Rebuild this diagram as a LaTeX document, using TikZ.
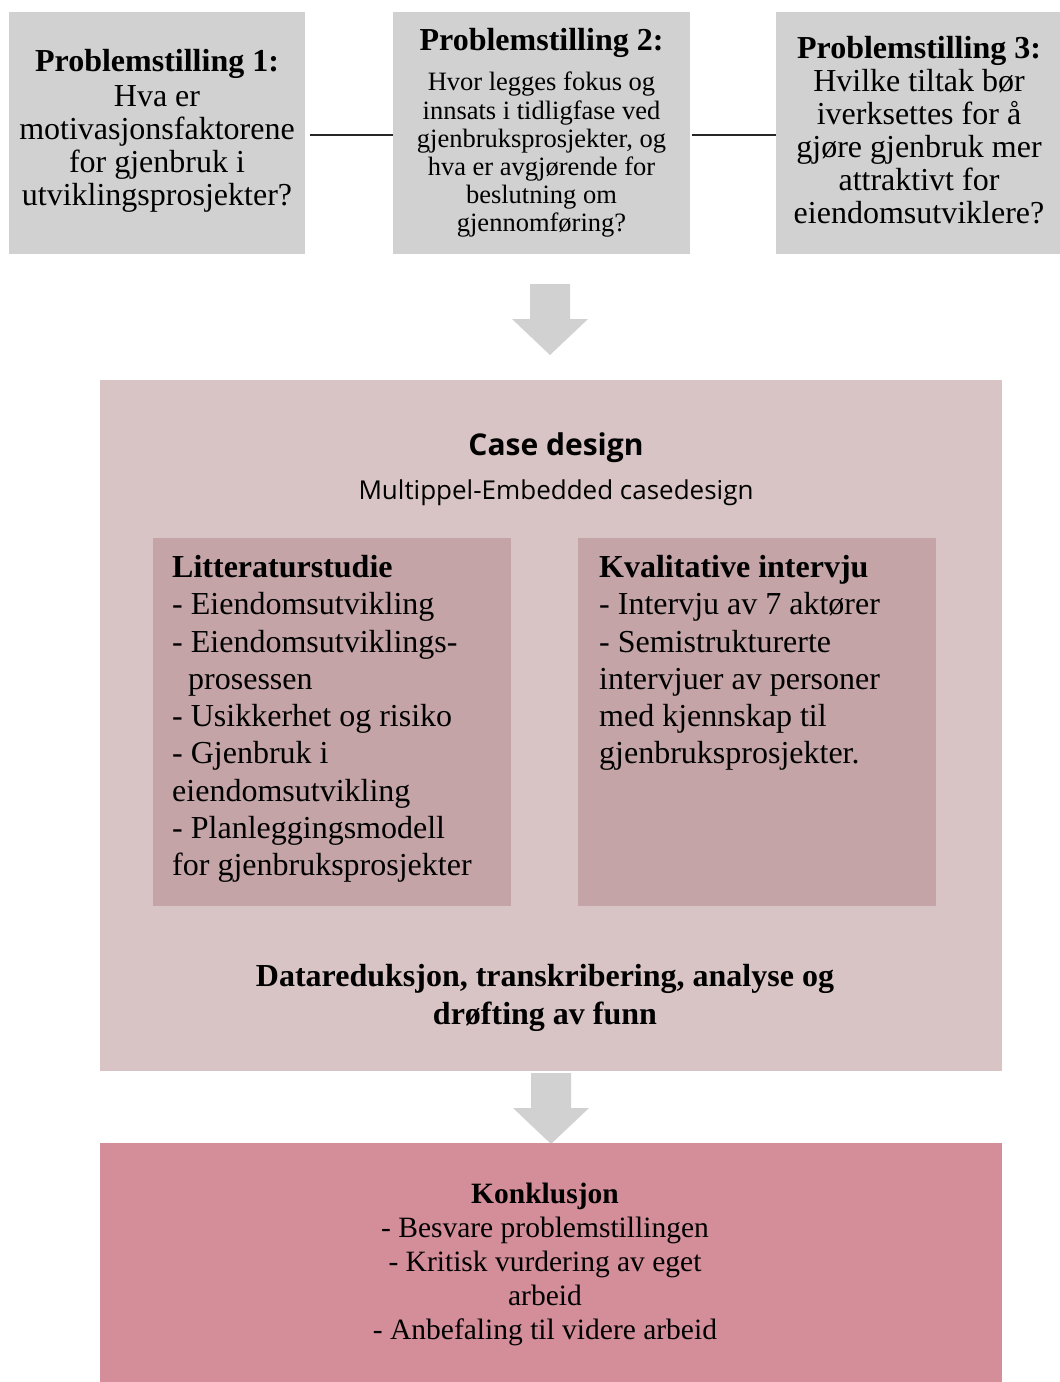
\documentclass[tikz,border=0pt]{standalone}
\usepackage{fontspec}
\setmainfont{Liberation Serif}
\newfontfamily\casefont{Open Sans}
\usetikzlibrary{calc}
\definecolor{qgray}{RGB}{209,209,209}
\definecolor{caseback}{RGB}{216,196,196}
\definecolor{innerback}{RGB}{196,164,166}
\definecolor{conclback}{RGB}{211,142,154}
\begin{document}
\begin{tikzpicture}[x=1pt,y=-1pt,
  qbox/.style={fill=qgray, draw=none, inner sep=0pt, minimum width=296pt, minimum height=242pt},
  qtext/.style={inner sep=0pt, align=center},
  bigbox/.style={fill=caseback, draw=none, inner sep=0pt},
  innerbox/.style={fill=innerback, draw=none, inner sep=0pt, minimum width=358pt, minimum height=368pt},
  conclbox/.style={fill=conclback, draw=none, inner sep=0pt},
  bodytext/.style={inner sep=0pt, font=\fontsize{32}{37.3}\selectfont},
  link/.style={draw=black!85, line width=1.8pt},
  blockarrow/.pic={\fill[qgray] (-20,0) -- (20,0) -- (20,35) -- (38,35) -- (0,71) -- (-38,35) -- (-20,35) -- cycle;}
]
\useasboundingbox (0,0) rectangle (1060,1382);

% research questions
\node[qbox] (p1) at (157,133) {};
\node[qbox, minimum width=297pt] (p2) at (541.5,133) {};
\node[qbox, minimum width=286pt] (p3) at (919,133) {};

\node[qtext, font=\fontsize{32}{33}\selectfont] (p1t) at (157,131) {
  \textbf{Problemstilling 1:}\\[2pt]
  Hva er\\ motivasjonsfaktorene\\ for gjenbruk i\\ utviklingsprosjekter?};
\node[qtext, font=\fontsize{26.5}{28.2}\selectfont] (p2t) at (541.5,133) {
  {\fontsize{32}{33}\selectfont\textbf{Problemstilling 2:}}\\[12pt]
  Hvor legges fokus og\\ innsats i tidligfase ved\\ gjenbruksprosjekter, og\\
  hva er avgjørende for\\ beslutning om\\ gjennomføring?};
\node[qtext, font=\fontsize{32}{33}\selectfont] (p3t) at (919,130) {
  \textbf{Problemstilling 3:}\\[0pt]
  Hvilke tiltak bør\\ iverksettes for å\\ gjøre gjenbruk mer\\ attraktivt for\\ eiendomsutviklere?};

\draw[link, shorten <=5pt, shorten >=0pt] ([yshift=-2pt]p1.east) -- ([yshift=-2pt]p2.west);
\draw[link, shorten <=2pt, shorten >=0pt] ([yshift=-2pt]p2.east) -- ([yshift=-2pt]p3.west);

\pic at (550,284) {blockarrow};

% case design
\node[bigbox, minimum width=902pt, minimum height=691pt] (case) at (551,725.5) {};
\node[inner sep=0pt] (cdtitle) at (556,448) {\casefont\bfseries\fontsize{30}{36}\selectfont Case design};
\node[inner sep=0pt] (cdsub) at (556,493) {\casefont\fontsize{26}{32}\selectfont Multippel-Embedded casedesign};

\node[innerbox] (lit) at (332,722) {};
\node[innerbox] (kval) at (757,722) {};

\node[bodytext, anchor=north west, align=left] (littext) at (172,555)
  {\textbf{Litteraturstudie}\\
   - Eiendomsutvikling\\
   - Eiendomsutviklings-\\
   \hspace*{16pt}prosessen\\
   - Usikkerhet og risiko\\
   - Gjenbruk i\\
   eiendomsutvikling\\
   - Planleggingsmodell\\
   for gjenbruksprosjekter};

\node[bodytext, anchor=north west, align=left] (kvaltext) at (599,555)
  {\textbf{Kvalitative intervju}\\
   - Intervju av 7 aktører\\
   - Semistrukturerte\\
   intervjuer av personer\\
   med kjennskap til\\
   gjenbruksprosjekter.};

\node[inner sep=0pt, align=center, font=\bfseries\fontsize{32}{38}\selectfont] (reduk) at (545,998)
  {Datareduksjon, transkribering, analyse og\\ drøfting av funn};

\pic at (551,1073) {blockarrow};

% conclusion
\node[conclbox, minimum width=902pt, minimum height=239pt] (concl) at (551,1262.5) {};
\node[inner sep=0pt, align=center, font=\fontsize{29.5}{34}\selectfont] (concltext) at (545,1264)
  {\textbf{Konklusjon}\\
   - Besvare problemstillingen\\
   - Kritisk vurdering av eget\\
   arbeid\\
   - Anbefaling til videre arbeid};
\end{tikzpicture}
\end{document}
